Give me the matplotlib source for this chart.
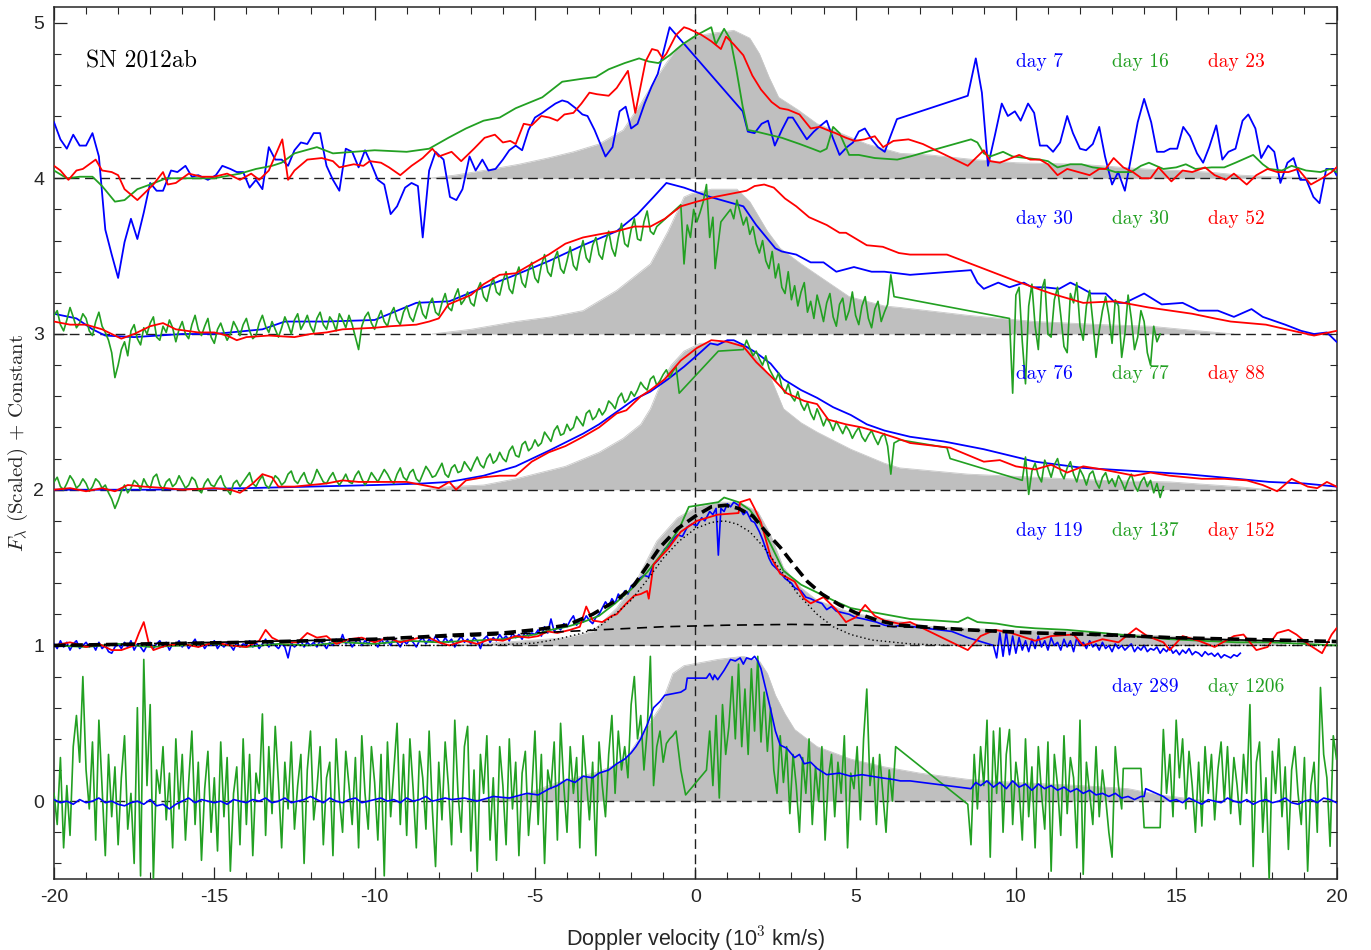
import numpy as np
import matplotlib
matplotlib.use("Agg")
import matplotlib.pyplot as plt
from matplotlib.ticker import MultipleLocator

# ---------------- data (velocity in 10^3 km/s, scaled flux + offset) ----------------
# ---- panel offset 4 : day 7 (blue), day 16 (green), day 23 (red)
day7 = [(-20,4.36),(-19.8,4.25),(-19.6,4.19),(-19.4,4.28),(-19.2,4.21),(-19.0,4.21),(-18.8,4.29),(-18.6,4.14),
        (-18.4,3.67),(-18.2,3.51),(-18.0,3.36),(-17.8,3.59),(-17.6,3.74),(-17.4,3.61),(-17.2,3.78),(-17.0,3.97),
        (-16.8,3.92),(-16.6,3.92),(-16.35,4.05),(-16.15,4.04),(-15.9,4.08),(-15.7,4.01),(-15.5,4.02),(-15.2,3.99),
        (-14.95,4.02),(-14.75,4.08),(-14.5,4.06),(-14.3,4.04),(-14.1,4.04),(-13.9,3.94),(-13.7,3.99),(-13.5,3.93),
        (-13.3,4.20),(-13.1,4.12),(-12.9,4.12),(-12.7,4.08),(-12.5,4.18),(-12.3,4.23),(-12.1,4.22),(-11.9,4.29),
        (-11.7,4.29),(-11.5,4.08),(-11.3,3.99),(-11.1,3.92),(-10.9,4.19),(-10.7,4.17),(-10.5,4.07),(-10.3,4.18),
        (-10.1,4.09),(-9.9,3.99),(-9.7,3.96),(-9.5,3.77),(-9.3,3.82),(-9.05,3.94),(-8.85,3.97),(-8.65,3.95),
        (-8.5,3.62),(-8.3,4.05),(-8.1,4.17),(-7.85,4.12),(-7.65,3.88),(-7.45,3.86),(-7.26,3.93),(-7.04,4.14),
        (-6.85,4.05),(-6.64,4.12),(-6.45,4.05),(-6.23,4.06),(-6.0,4.12),(-5.8,4.18),(-5.6,4.21),(-5.4,4.18),
        (-5.2,4.31),(-5.0,4.39),(-4.77,4.42),(-4.57,4.45),(-4.36,4.48),(-4.15,4.50),(-3.98,4.49),(-3.73,4.45),
        (-3.52,4.41),(-3.36,4.40),(-3.14,4.31),(-2.8,4.14),(-2.58,4.20),(-2.36,4.43),(-2.17,4.46),(-2.0,4.32),
        (-1.8,4.35),(-1.58,4.48),(-1.36,4.59),(-1.17,4.67),(-1.02,4.79),(-0.8,4.97),(1.48,4.43),(1.64,4.30),
        (1.85,4.29),(2.07,4.35),(2.27,4.37),(2.48,4.21),(2.7,4.31),(2.9,4.39),(3.04,4.39),(3.26,4.32),
        (3.48,4.25),(3.7,4.30),(3.92,4.34),(4.1,4.37),(4.29,4.26),(4.5,4.15),(4.73,4.20),(4.92,4.23),
        (5.1,4.30),(5.29,4.32),(5.5,4.25),(5.7,4.20),(5.91,4.17),(6.07,4.26),(6.29,4.38),(8.5,4.53),
        (8.75,4.77),(8.94,4.55),(9.13,4.08),(9.35,4.28),(9.56,4.48),(9.75,4.40),(9.97,4.43),(10.15,4.37),
        (10.38,4.48),(10.57,4.42),(10.75,4.21),(10.97,4.21),(11.16,4.17),(11.38,4.23),(11.6,4.40),(11.78,4.29),
        (12.0,4.19),(12.19,4.18),(12.4,4.22),(12.6,4.33),(12.78,4.14),(13.0,3.96),(13.19,4.04),(13.4,3.92),
        (13.62,4.16),(13.8,4.36),(14.0,4.51),(14.22,4.36),(14.4,4.17),(14.62,4.17),(14.81,4.19),(15.03,4.19),
        (15.22,4.33),(15.43,4.27),(15.65,4.16),(15.84,4.10),(16.03,4.20),(16.25,4.34),(16.44,4.12),(16.63,4.17),
        (16.85,4.19),(17.07,4.37),(17.25,4.41),(17.47,4.32),(17.65,4.13),(17.87,4.21),(18.06,4.17),(18.25,3.97),
        (18.47,4.10),(18.66,4.13),(18.87,3.99),(19.06,3.99),(19.28,3.88),(19.47,3.84),(19.68,4.06),(19.9,4.06),
        (20.0,4.02)]
day16 = [(-20,4.05),(-19.6,4.0),(-19.2,4.01),(-18.8,4.01),(-18.5,3.95),(-18.1,3.85),(-17.8,3.86),(-17.4,3.93),
         (-17.0,3.96),(-16.5,4.0),(-16.0,4.0),(-15.0,4.0),(-14.2,4.03),(-13.7,4.06),(-13.2,4.08),(-12.9,4.1),
         (-12.5,4.16),(-11.8,4.2),(-11.3,4.16),(-10.0,4.18),(-9.0,4.17),(-8.3,4.19),(-7.7,4.26),(-7.15,4.32),
         (-6.6,4.37),(-6.1,4.39),(-5.6,4.45),(-4.77,4.52),(-4.15,4.62),(-3.5,4.64),(-3.1,4.65),(-2.7,4.70),
         (-2.2,4.74),(-1.75,4.77),(-1.45,4.75),(-1.15,4.74),(-0.8,4.79),(-0.4,4.86),(0.05,4.92),(0.5,4.97),
         (0.64,4.86),(0.9,4.96),(1.1,4.89),(1.28,4.70),(1.48,4.46),(1.64,4.31),(1.9,4.30),(2.3,4.28),
         (2.7,4.26),(3.26,4.22),(3.65,4.19),(3.9,4.17),(4.1,4.19),(4.3,4.33),(4.5,4.29),(4.8,4.15),
         (5.1,4.15),(5.6,4.13),(6.3,4.12),(6.7,4.14),(8.6,4.25),(8.8,4.23),(9.0,4.16),(9.2,4.14),
         (9.6,4.17),(9.9,4.14),(10.75,4.12),(11.0,4.11),(11.3,4.07),(11.7,4.09),(12.05,4.09),(12.4,4.07),
         (12.8,4.06),(13.1,4.04),(13.6,4.04),(13.9,4.08),(14.15,4.10),(14.6,4.06),(15.0,4.07),(15.3,4.09),
         (15.6,4.06),(16.1,4.07),(16.5,4.07),(16.85,4.10),(17.4,4.15),(17.7,4.09),(17.9,4.06),(18.3,4.05),
         (18.6,4.08),(19.05,4.05),(19.5,4.04),(19.8,4.06),(20,4.04)]
day23 = [(-20,4.08),(-19.8,4.05),(-19.55,3.99),(-19.3,4.05),(-19.1,4.06),(-18.7,4.12),(-18.5,4.05),(-18.2,4.04),
         (-18.0,4.02),(-17.8,3.93),(-17.4,3.86),(-17.2,3.9),(-16.9,3.96),(-16.6,4.04),(-16.45,3.96),(-16.2,3.97),
         (-15.8,4.03),(-15.4,4.01),(-15.0,4.01),(-14.6,4.03),(-14.2,3.99),(-13.85,4.03),(-13.6,3.99),(-13.3,4.05),
         (-12.88,4.25),(-12.7,3.99),(-12.5,4.05),(-12.1,4.12),(-11.65,4.13),(-11.3,4.11),(-11.1,4.07),(-10.65,4.09),
         (-10.35,4.08),(-10.15,4.11),(-9.8,4.10),(-9.55,4.07),(-9.2,4.02),(-8.85,4.08),(-8.5,4.13),(-8.2,4.19),
         (-8.0,4.14),(-7.6,4.17),(-7.3,4.11),(-6.9,4.19),(-6.57,4.26),(-6.25,4.28),(-6.0,4.23),(-5.77,4.24),
         (-5.6,4.22),(-5.35,4.35),(-5.1,4.34),(-4.8,4.40),(-4.55,4.39),(-4.3,4.37),(-4.08,4.41),(-3.8,4.42),
         (-3.55,4.48),(-3.3,4.55),(-3.07,4.54),(-2.7,4.53),(-2.45,4.58),(-2.1,4.69),(-1.87,4.42),(-1.55,4.75),
         (-1.35,4.83),(-1.17,4.82),(-1.02,4.77),(-0.9,4.80),(-0.6,4.92),(-0.35,4.97),(-0.2,4.96),(0.2,4.92),
         (0.5,4.88),(0.8,4.83),(0.96,4.91),(1.2,4.86),(1.5,4.79),(1.78,4.66),(2.05,4.57),(2.38,4.49),
         (2.64,4.45),(2.9,4.44),(3.25,4.41),(3.6,4.32),(3.88,4.33),(4.12,4.31),(4.37,4.29),(4.7,4.26),
         (4.97,4.24),(5.28,4.25),(5.6,4.27),(5.86,4.20),(6.18,4.24),(6.65,4.25),(7.1,4.22),(8.5,4.08),
         (9.0,4.18),(9.2,4.11),(9.5,4.10),(10.1,4.15),(10.45,4.12),(10.75,4.12),(11.0,4.09),(11.3,4.02),
         (11.6,4.06),(11.95,4.04),(12.3,4.02),(12.6,4.06),(12.8,4.06),(13.05,4.13),(13.35,4.07),(13.65,4.04),
         (13.92,4.0),(14.2,4.0),(14.45,4.07),(14.85,3.98),(15.2,4.05),(15.5,4.04),(15.9,4.07),(16.2,4.02),
         (16.55,3.99),(16.8,4.03),(17.2,3.96),(17.5,4.02),(17.85,4.06),(18.15,4.04),(18.5,4.04),(18.8,4.06),
         (19.2,3.96),(19.55,4.0),(19.85,4.04),(20.0,4.07)]
gray4 = [(-8.3,4.0),(-7.5,4.02),(-6.6,4.05),(-5.5,4.09),(-4.6,4.13),(-3.8,4.17),(-3.0,4.22),(-2.25,4.31),
         (-1.7,4.48),(-1.2,4.65),(-0.6,4.83),(-0.07,4.91),(0.47,4.93),(1.2,4.95),(1.7,4.9),(2.0,4.8),
         (2.3,4.65),(2.6,4.52),(3.2,4.44),(3.8,4.35),(4.3,4.31),(5.35,4.22),(6.4,4.16),(7.3,4.15),
         (8.7,4.12),(10,4.10),(12,4.09),(14,4.06),(16,4.04),(17,4.02),(18,4.01),(20,4.0)]

# ---- panel offset 3 : day 30 (blue), day 30 (green), day 52 (red)
day30b = [(-20,3.13),(-19.3,3.1),(-18.8,3.03),(-18.4,2.99),(-17.5,2.98),(-16,3.0),(-15,3.0),(-13.5,3.03),
          (-12.8,3.08),(-11.5,3.08),(-10,3.09),(-8.7,3.2),(-7.67,3.21),(-6.6,3.30),(-5.6,3.38),(-4.55,3.47),
          (-3.5,3.57),(-2.45,3.66),(-1.8,3.77),(-1.3,3.88),(-0.9,3.97),(-0.35,3.94),(0.47,3.88),(1.5,3.82),
          (1.9,3.70),(2.5,3.55),(2.7,3.53),(3.15,3.51),(3.6,3.46),(4.0,3.46),(4.4,3.40),(4.95,3.43),
          (5.5,3.40),(5.9,3.40),(6.7,3.38),(8.6,3.41),(8.8,3.33),(9.0,3.29),(9.45,3.33),(9.8,3.30),
          (10.25,3.33),(10.5,3.30),(10.9,3.30),(11.35,3.29),(11.7,3.33),(12.0,3.30),(12.35,3.26),(12.8,3.26),
          (13.1,3.20),(13.4,3.20),(14.0,3.26),(14.55,3.19),(15.2,3.20),(15.7,3.15),(16.3,3.15),(16.8,3.11),
          (17.35,3.16),(17.7,3.11),(18.4,3.06),(18.9,3.02),(19.3,3.0),(19.7,3.01),(20.0,2.95)]
day30g_a = [3.12,3.15,3.06,3.02,3.09,3.17,3.11,3.04,3.07,3.13,
            3.10,3.02,2.99,3.08,3.14,3.05,3.01,2.96,2.88,2.72,
            2.80,2.90,2.95,2.86,3.02,3.06,2.97,2.93,3.04,3.00,
            3.07,3.11,2.98,2.96,3.05,3.01,3.09,3.04,2.95,3.03,
            3.08,3.00,2.97,3.06,3.12,3.03,2.99,3.05,3.10,2.98,
            2.94,3.03,3.07,3.01,2.96,3.00,3.08,3.04,2.99,3.06,
            3.10,3.02,2.97,2.99,3.07,3.12,3.05,3.01,3.08,3.03,
            2.98,3.04,3.11,3.06,3.00,3.09,3.13,3.03,3.07,3.12,
            3.05,3.01,3.10,3.14,3.06,3.03,3.11,3.08,3.02,3.13,
            3.09,3.04,3.12,3.06,2.98,2.90,3.05,3.11,3.14,3.07,
            3.03,3.10,3.15,3.08,3.05,3.13,3.17,3.09,3.06,3.14,
            3.18,3.11,3.08,3.15,3.21,3.13,3.10,3.19,3.23,3.14,
            3.12,3.20,3.26,3.17,3.15,3.24,3.29,3.19,3.22,3.27,
            3.20,3.18,3.28,3.33,3.24,3.21,3.30,3.36,3.27,3.25,
            3.34,3.40,3.29,3.26,3.37,3.43,3.33,3.30,3.41,3.46,
            3.36,3.33,3.44,3.51,3.40,3.37,3.48,3.53,3.42,3.39,
            3.47,3.56,3.44,3.41,3.52,3.60,3.49,3.46,3.57,3.62,
            3.51,3.48,3.59,3.66,3.55,3.50,3.62,3.71,3.58,3.56,
            3.67,3.74,3.61,3.60,3.72,3.79,3.66,3.64,3.69]
day30g_b = [(-0.45,3.83),(-0.35,3.45),(-0.25,3.70),(-0.15,3.62),(-0.05,3.80),(0.05,3.72),(0.15,3.78),
            (0.25,3.85),(0.35,3.96),(0.45,3.62),(0.55,3.75),(0.62,3.42),(0.8,3.72)]
day30g_c = [3.80,3.74,3.86,3.78,3.70,3.75,3.64,3.69,3.58,3.52,
            3.60,3.47,3.42,3.53,3.36,3.45,3.30,3.26,3.40,3.22,
            3.31,3.18,3.27,3.33,3.14,3.21,3.10,3.25,3.17,3.08,
            3.20,3.26,3.11,3.05,3.19,3.23,3.09,3.15,3.27,3.12,
            3.06,3.18,3.24,3.10,3.04,3.16,3.21,3.08,3.14,3.19,
            3.38,3.24]
day30g_d = [3.10,2.62,3.25,3.30,2.95,2.68,3.18,3.32,3.05,2.90,
            3.28,3.35,3.00,2.98,3.22,3.30,3.12,2.92,2.88,3.26,
            3.20,3.33,3.05,2.96,3.18,3.28,3.08,2.85,3.02,3.15,
            3.24,3.12,2.94,3.22,3.18,2.85,3.00,3.25,3.10,2.90,
            2.98,3.15,3.08,2.88,2.80,3.05,2.95,3.00]
day52 = [(-20,3.08),(-19.5,3.06),(-19.0,3.06),(-18.5,3.03),(-17.9,2.97),(-17.5,3.0),(-17.0,3.05),(-16.6,3.07),
         (-16.2,3.03),(-15.5,3.01),(-15.0,3.01),(-14.6,2.99),(-14.3,2.96),(-14.0,2.98),(-13.3,2.99),(-12.5,2.98),
         (-12.0,3.0),(-11.5,3.01),(-11.0,3.03),(-10.0,3.04),(-9.5,3.05),(-8.7,3.06),(-8.3,3.08),(-8.0,3.1),
         (-7.7,3.19),(-7.35,3.22),(-7.0,3.25),(-6.6,3.32),(-6.1,3.38),(-5.6,3.39),(-5.1,3.45),(-4.57,3.51),
         (-4.05,3.58),(-3.5,3.62),(-3.0,3.64),(-2.45,3.66),(-1.9,3.69),(-1.4,3.69),(-0.95,3.74),(-0.45,3.82),
         (0.05,3.85),(0.6,3.88),(1.1,3.9),(1.6,3.92),(1.85,3.95),(2.15,3.96),(2.45,3.94),(2.8,3.87),
         (3.15,3.82),(3.55,3.75),(4.1,3.70),(4.5,3.65),(4.7,3.65),(5.35,3.57),(5.85,3.56),(6.35,3.52),
         (6.7,3.51),(7.85,3.51),(10.0,3.34),(11.1,3.26),(12.1,3.20),(13.1,3.21),(14.15,3.17),(15.5,3.13),
         (16.2,3.1),(16.7,3.08),(17.8,3.06),(18.65,3.02),(19.3,2.99),(20,3.02)]
gray3 = [(-8.2,3.0),(-7,3.03),(-5.6,3.08),(-4.5,3.11),(-3.5,3.15),(-2.45,3.28),(-1.4,3.45),(-0.85,3.66),
         (-0.35,3.88),(-0.13,3.90),(0.5,3.93),(1.3,3.93),(1.7,3.85),(2.25,3.66),(2.65,3.55),(3.3,3.45),
         (3.8,3.38),(4.8,3.24),(5.9,3.18),(6.4,3.17),(8.5,3.12),(10.6,3.08),(12.7,3.06),(14.2,3.05),
         (15.7,3.02),(16.8,3.0)]

# ---- panel offset 2 : day 76 (blue), day 77 (green), day 88 (red)
day76 = [(-20,2.0),(-17,2.0),(-14,2.01),(-10,2.03),(-8.5,2.04),(-7.67,2.05),(-6.6,2.09),(-5.6,2.15),
         (-4.57,2.25),(-3.5,2.36),(-3.0,2.42),(-2.45,2.5),(-1.9,2.58),(-1.4,2.63),(-0.85,2.71),(-0.35,2.79),
         (0.15,2.88),(0.47,2.94),(0.7,2.93),(1.0,2.96),(1.2,2.96),(1.5,2.93),(1.9,2.88),(2.35,2.81),
         (2.75,2.71),(3.3,2.64),(3.8,2.59),(4.3,2.53),(4.85,2.48),(5.35,2.42),(5.9,2.38),(6.7,2.34),
         (7.75,2.31),(9.0,2.26),(10.6,2.18),(12.1,2.14),(13.7,2.12),(15.3,2.10),(16.9,2.07),(17.9,2.05),
         (19.0,2.04),(20,2.02)]
day77_a = [2.05,2.08,2.02,2.00,2.04,2.09,2.06,2.01,2.03,2.07,
           2.04,1.99,2.02,2.07,2.05,2.01,2.03,1.98,1.94,1.88,
           1.93,1.99,2.03,1.98,2.01,2.06,2.04,2.00,2.07,2.03,
           2.01,2.08,2.10,2.03,2.00,2.05,2.07,2.02,2.04,2.09,
           2.05,2.01,2.03,2.08,2.06,2.00,1.98,2.04,2.07,2.03,
           2.02,2.06,2.09,2.03,2.00,1.97,2.04,2.06,2.02,2.05,
           2.08,2.11,2.04,2.02,2.06,2.09,2.03,2.01,2.05,2.09,
           2.07,2.03,2.05,2.10,2.12,2.06,2.04,2.08,2.11,2.05,
           2.03,2.07,2.13,2.09,2.05,2.04,2.08,2.11,2.06,2.03,
           2.06,2.10,2.05,2.04,2.09,2.12,2.07,2.03,2.06,2.11,
           2.08,2.05,2.09,2.13,2.10,2.06,2.04,2.10,2.14,2.08,
           2.06,2.11,2.13,2.07,2.05,2.10,2.15,2.12,2.08,2.09,
           2.13,2.17,2.10,2.08,2.14,2.16,2.11,2.12,2.18,2.15,
           2.12,2.17,2.21,2.16,2.14,2.20,2.23,2.17,2.19,2.24,
           2.20,2.18,2.25,2.28,2.22,2.21,2.29,2.31,2.25,2.27,
           2.32,2.28,2.30,2.37,2.34,2.31,2.38,2.41,2.35,2.36,
           2.42,2.38,2.40,2.47,2.44,2.41,2.49,2.51,2.45,2.47,
           2.52,2.48,2.51,2.57,2.55,2.52,2.59,2.62,2.56,2.58,
           2.63,2.60,2.64,2.69,2.66,2.64,2.71,2.73,2.67,2.70,
           2.74,2.77,2.72,2.76,2.79,2.62]
day77_b = [2.90,2.96,2.91,2.86,2.89,2.84,2.80,2.86,2.78,2.74,
           2.70,2.75,2.66,2.62,2.68,2.60,2.57,2.63,2.55,2.51,
           2.56,2.49,2.45,2.52,2.47,2.41,2.46,2.43,2.38,2.44,
           2.40,2.36,2.41,2.38,2.33,2.37,2.40,2.34,2.31,2.35,
           2.38,2.33,2.29,2.34,2.36,2.28,2.10,2.30]
day77_c = [2.06,2.21,1.97,2.12,2.17,2.09,2.05,2.19,2.14,2.08,
           2.16,2.20,2.11,2.07,2.14,2.18,2.10,2.05,2.13,2.09,
           2.03,2.10,2.12,2.05,2.01,2.08,2.11,2.04,2.07,2.02,
           2.09,2.05,2.00,2.06,2.10,2.03,1.99,2.05,2.08,2.02,
           2.06,1.98,2.04,1.95,2.02]
day88 = [(-20,2.0),(-19.5,2.01),(-19.0,1.99),(-18.5,2.01),(-18.1,1.99),(-17.7,2.03),(-17.2,2.02),(-16.5,2.01),
         (-16,2.0),(-15,2.01),(-14.5,2.0),(-14.2,1.98),(-13.8,2.04),(-13.5,2.1),(-13.2,2.08),(-13.0,2.02),
         (-12.5,2.02),(-12.0,2.03),(-11.5,2.04),(-11.0,2.06),(-10.5,2.05),(-10.0,2.05),(-9.0,2.05),(-8.5,2.03),
         (-8.0,2.01),(-7.67,2.05),(-7.46,2.0),(-7.15,2.06),(-6.6,2.08),(-6.1,2.09),(-5.6,2.09),(-5.1,2.18),
         (-4.57,2.24),(-4.05,2.28),(-3.5,2.34),(-3.0,2.40),(-2.45,2.49),(-2.15,2.51),(-1.7,2.60),(-1.4,2.64),
         (-0.95,2.71),(-0.45,2.83),(0.05,2.91),(0.5,2.96),(1.0,2.95),(1.5,2.92),(1.9,2.82),(2.35,2.73),
         (2.85,2.62),(3.4,2.57),(3.8,2.55),(4.15,2.45),(4.7,2.42),(5.2,2.40),(5.7,2.37),(6.3,2.33),
         (6.7,2.30),(7.95,2.27),(9.0,2.18),(9.5,2.19),(10.0,2.15),(10.6,2.13),(11.1,2.16),(11.6,2.11),
         (12.1,2.15),(12.7,2.13),(13.2,2.11),(13.7,2.09),(14.2,2.11),(14.8,2.09),(15.8,2.07),(16.5,2.07),
         (17.2,2.06),(17.7,2.03),(18.15,1.99),(18.6,2.07),(19.1,2.02),(19.4,2.01),(19.7,2.05),(20,2.02)]
gray2 = [(-8.5,2.0),(-7.67,2.02),(-6.6,2.03),(-5.6,2.07),(-4.05,2.15),(-3.0,2.24),(-2.25,2.33),(-1.7,2.42),
         (-1.4,2.52),(-1.1,2.67),(-0.75,2.8),(-0.35,2.89),(0.15,2.94),(1.2,2.95),(1.7,2.91),(2.35,2.72),
         (2.75,2.52),(3.3,2.43),(3.8,2.37),(4.85,2.26),(5.9,2.17),(6.38,2.14),(8.5,2.10),(10.6,2.08),
         (12.7,2.06),(14.8,2.05),(16.9,2.02),(17.9,2.0)]

# ---- panel offset 1 : day 119 (blue), day 137 (green), day 152 (red) + line-profile fit
day119_a = [1.01,0.98,1.03,0.99,1.02,0.97,1.01,1.03,0.98,1.00,
            1.02,0.99,1.01,0.97,1.02,0.98,1.00,0.96,0.95,0.99,
            1.01,0.98,1.02,0.99,1.03,0.97,1.01,0.99,0.96,1.00,
            1.02,0.98,1.01,1.03,0.99,1.02,0.97,1.01,1.00,1.03,
            0.99,1.02,0.98,1.01,1.04,0.99,1.02,0.98,1.01,1.00,
            1.03,0.98,1.01,0.99,1.02,1.00,0.97,1.02,0.99,1.01,
            1.00,1.03,0.99,1.02,0.98,1.01,1.04,0.99,1.02,1.00,
            0.98,1.01,0.99,0.92,1.02,0.99,1.01,1.03,0.99,1.02,
            1.00,1.02,0.99,1.03,1.01,0.98,1.02,1.00,1.04,1.01,
            1.07,1.01,1.03,0.99,1.02,1.05,1.00,1.03,1.01,1.04,
            1.02,0.99,1.04,1.01,1.03,1.00,1.05,1.02,0.99,1.03,
            1.01,1.04,1.02,0.99,1.03,1.05,1.01,1.04,1.02,1.06,
            1.03,1.01,1.05,1.02,1.04,0.99,1.03,1.06,1.02,1.04,
            1.01,1.05,1.03,0.98,1.04,1.06,1.02,1.05,1.03,1.07,
            1.04,1.06,1.03,1.08,1.05,1.07,1.04,1.09,1.06,1.08,
            1.07,1.10,1.06,1.12,1.08,1.17,1.09,1.12,1.10,1.14,
            1.12,1.16,1.19,1.13,1.17,1.15,1.19,1.16,1.14,1.18,
            1.20,1.24,1.28,1.25,1.30,1.27,1.33,1.30,1.35,1.33,
            1.38]
day119_b = [(-1.8,1.42),(-1.6,1.45),(-1.45,1.44),(-1.3,1.52),(-1.15,1.55),(-0.95,1.62),(-0.8,1.64),(-0.65,1.69),
            (-0.55,1.71),(-0.4,1.70),(-0.25,1.76),(-0.1,1.78),(0.05,1.77),(0.2,1.82),(0.3,1.80),(0.45,1.86),
            (0.55,1.84),(0.65,1.88),(0.72,1.58),(0.8,1.88),(0.9,1.86),(1.0,1.91),(1.1,1.89),(1.2,1.92),
            (1.35,1.90),(1.5,1.84),(1.6,1.86),(1.75,1.80),(1.85,1.79),(2.0,1.73),(2.1,1.68),(2.2,1.62),
            (2.3,1.56),(2.4,1.52),(2.5,1.50),(2.65,1.47),(2.8,1.43),(3.0,1.40),(3.1,1.37),(3.3,1.35),
            (3.45,1.31),(3.6,1.30),(3.8,1.28),(3.95,1.27),(4.1,1.23),(4.25,1.25),(4.4,1.22),(4.6,1.21),
            (4.8,1.20),(5.0,1.18),(5.25,1.17),(5.45,1.16),(5.65,1.15),(5.9,1.13),(6.2,1.12),(6.4,1.13),
            (8.0,1.09),(8.5,1.05)]
day119_c = [1.00,0.92,1.08,0.93,1.09,0.94,1.06,0.95,1.05,0.97,
            1.03,0.96,1.04,0.98,1.06,0.99,1.03,0.97,1.05,1.00,
            1.02,0.97,1.04,0.99,1.03,0.96,1.05,1.00,1.02,0.98,
            1.03,0.99,1.01,0.97,1.02,0.98,1.00,0.96,1.01,0.98,
            1.00,0.97,0.99,1.01,0.96,0.99,0.97,1.00,0.96,0.98,
            0.97,0.99,0.95,0.98,0.96,0.99,0.95,0.97,0.94,0.97,
            0.95,0.98,0.94,0.96,0.95,0.93,0.96,0.94,0.95,0.93,
            0.95,0.92,0.94,0.93,0.92,0.94,0.93,0.95]
day137 = [(-20,1.0),(-19,0.99),(-18,1.01),(-17,0.99),(-16,1.0),(-15,1.01),(-14,0.99),(-13,1.01),
          (-12,1.0),(-11,1.02),(-10,1.01),(-9,1.03),(-8,1.02),(-7,1.03),(-6,1.04),(-5,1.07),
          (-4.5,1.10),(-4,1.12),(-3.5,1.15),(-3,1.19),(-2.5,1.27),(-2,1.36),(-1.5,1.47),(-1,1.60),
          (-0.5,1.75),(-0.2,1.89),(0.72,1.92),(0.9,1.95),(1.35,1.92),(1.7,1.87),(2.0,1.79),(2.35,1.65),
          (2.75,1.48),(3.3,1.39),(3.8,1.34),(4.4,1.28),(4.85,1.24),(5.35,1.22),(5.9,1.20),(6.7,1.17),
          (7.5,1.16),(8.2,1.15),(8.5,1.18),(8.8,1.15),(9.4,1.14),(10.0,1.12),(10.6,1.11),(11.6,1.10),
          (12.7,1.08),(13.7,1.06),(14.8,1.04),(15.8,1.03),(16.9,1.02),(17.9,1.02),(19,1.01),(20,1.0)]
day152 = [(-20,1.0),(-19.5,1.02),(-19.0,0.99),(-18.6,1.01),(-18.2,0.97),(-17.9,0.97),(-17.5,1.0),(-17.35,1.08),
          (-17.2,1.15),(-17.05,1.02),(-16.9,0.97),(-16.5,1.0),(-16.0,1.01),(-15.5,0.99),(-15.0,1.02),(-14.5,1.0),
          (-14.0,0.99),(-13.6,1.03),(-13.4,1.10),(-13.2,1.05),(-12.9,1.02),(-12.4,1.02),(-12.1,1.08),(-11.8,1.05),
          (-11.5,1.06),(-11.2,1.01),(-10.8,1.04),(-10.4,1.05),(-10.0,1.02),(-9.6,1.05),(-9.2,1.02),(-8.8,1.04),
          (-8.4,1.06),(-8.0,1.02),(-7.67,1.0),(-7.2,1.03),(-6.8,1.01),(-6.4,1.04),(-6.0,1.03),(-5.6,1.06),
          (-5.2,1.05),(-4.9,1.06),(-4.6,1.09),(-4.3,1.08),(-3.9,1.10),(-3.6,1.12),(-3.4,1.25),(-3.2,1.16),
          (-2.9,1.15),(-2.6,1.19),(-2.45,1.20),(-2.15,1.27),(-1.9,1.32),(-1.7,1.33),(-1.5,1.35),(-1.45,1.30),
          (-1.3,1.52),(-0.85,1.62),(-0.45,1.73),(0.05,1.80),(0.7,1.84),(1.35,1.85),(1.4,1.92),(1.7,1.94),
          (1.85,1.88),(2.05,1.79),(2.35,1.57),(2.65,1.46),(3.1,1.41),(3.4,1.30),(3.6,1.27),(4.0,1.31),
          (4.4,1.23),(4.7,1.15),(5.0,1.18),(5.3,1.26),(5.6,1.19),(5.9,1.16),(6.35,1.14),(6.7,1.15),
          (7.4,1.08),(8.5,0.97),(8.9,1.06),(9.35,1.10),(9.85,1.08),(10.6,1.03),(11.1,1.06),(11.8,1.07),
          (12.1,1.0),(12.7,1.04),(13.2,1.02),(13.75,1.11),(14.1,1.06),(14.6,1.02),(14.8,0.97),(15.2,1.06),
          (15.7,1.03),(16.2,0.99),(16.8,1.06),(17.1,1.07),(17.5,0.97),(17.85,0.99),(18.15,1.08),(18.5,1.10),
          (18.75,1.07),(19.1,1.01),(19.55,0.95),(19.85,1.07),(20,1.11)]
fit_total = [(-20,1.0),(-17,1.01),(-14,1.02),(-12,1.03),(-10,1.04),(-8.5,1.055),(-7.67,1.065),(-6.0,1.08),
             (-5.0,1.10),(-4.0,1.13),(-3.2,1.20),(-2.45,1.29),(-1.9,1.39),(-1.6,1.48),(-1.1,1.63),(-0.55,1.75),
             (0.0,1.83),(0.5,1.89),(0.95,1.90),(1.35,1.88),(1.8,1.83),(2.2,1.73),(2.65,1.63),(3.1,1.51),
             (3.5,1.41),(3.95,1.33),(4.5,1.26),(5.0,1.21),(5.7,1.16),(6.35,1.13),(8.5,1.10),(10.6,1.08),
             (12.7,1.07),(14.8,1.05),(16.9,1.04),(19.0,1.03),(20,1.025)]
fit_broad = [(-20,1.0),(-15,1.02),(-10,1.04),(-7,1.06),(-5,1.08),(-3,1.10),(-1,1.12),(1,1.13),
             (3,1.135),(5,1.13),(7,1.115),(10,1.085),(13,1.06),(16,1.04),(20,1.02)]
fit_narrow = [(-20,1.0),(-7,1.0),(-6,1.005),(-5,1.015),(-4.3,1.04),(-3.5,1.08),(-3,1.12),(-2.5,1.20),
              (-2,1.29),(-1.5,1.42),(-1,1.56),(-0.5,1.67),(0,1.75),(0.5,1.79),(0.9,1.80),(1.3,1.78),
              (1.7,1.73),(2.1,1.64),(2.5,1.53),(2.75,1.46),(3.2,1.33),(3.8,1.20),(4.3,1.12),(4.85,1.07),
              (5.5,1.035),(6.7,1.01),(8,1.0),(20,1.0)]
gray1 = [(-8,1.0),(-6,1.02),(-4,1.05),(-3.2,1.09),(-2.45,1.24),(-1.8,1.43),(-1.2,1.67),(-0.55,1.82),
         (0.05,1.89),(0.7,1.92),(1.35,1.92),(1.95,1.86),(2.35,1.71),(2.75,1.5),(3.3,1.37),(3.8,1.29),
         (4.85,1.21),(5.9,1.17),(7.4,1.12),(9.5,1.10),(11.6,1.09),(13.7,1.07),(15.8,1.05),(17.5,1.03),
         (18.5,1.0)]

# ---- panel offset 0 : day 289 (blue), day 1206 (green)
day289_a = [0.01,-0.01,0.00,-0.02,0.01,-0.01,0.00,0.02,-0.01,0.00,
            -0.02,-0.03,-0.01,0.00,-0.02,0.01,-0.03,-0.02,-0.05,-0.02,
            0.00,0.02,-0.01,0.01,0.00,-0.01,0.00,-0.02,0.01,0.00,
            -0.01,0.01,0.00,0.02,-0.01,0.00,0.02,-0.01,0.00,0.01,
            0.03,0.01,-0.01,0.02,0.00,-0.01,0.01,0.02,-0.01,0.00,
            0.01,0.02,0.00,0.01,-0.01,0.02,0.00,0.01,0.03,0.00,
            0.01,0.02,0.01]
day289_b = [(-7.2,0.02),(-6.8,0.0),(-6.3,0.03),(-5.8,0.02),(-5.25,0.05),(-4.9,0.04),(-4.55,0.08),(-4.3,0.10),
            (-4.0,0.14),(-3.75,0.12),(-3.5,0.16),(-3.2,0.15),(-3.0,0.18),(-2.7,0.20),(-2.45,0.24),(-2.2,0.27),
            (-2.0,0.31),(-1.85,0.35),(-1.7,0.40),(-1.5,0.49),(-1.3,0.60),(-1.1,0.64),(-0.95,0.68),(-0.7,0.69),
            (-0.45,0.70),(-0.3,0.72),(-0.25,0.79),(0.35,0.79),(0.45,0.82),(0.55,0.78),(0.6,0.81),(0.7,0.78),
            (0.9,0.84),(1.1,0.91),(1.25,0.90),(1.4,0.92),(1.5,0.88),(1.6,0.92),(1.75,0.91),(1.85,0.93),
            (1.95,0.90),(2.05,0.85),(2.2,0.72),(2.35,0.59),(2.5,0.45),(2.65,0.36),(2.85,0.34),(3.1,0.28),
            (3.25,0.30),(3.4,0.24),(3.6,0.25),(3.8,0.21),(4.1,0.17),(4.5,0.18),(4.85,0.16),(5.2,0.17),
            (5.5,0.16),(5.8,0.15),(6.15,0.14),(6.4,0.13),(6.7,0.13),(8.6,0.08),(8.75,0.12),(8.9,0.10),
            (9.1,0.13),(9.3,0.09),(9.5,0.12),(9.7,0.08),(9.9,0.13),(10.1,0.09),(10.3,0.11),(10.5,0.07),
            (10.7,0.11),(10.9,0.08),(11.1,0.10),(11.3,0.07),(11.5,0.09),(11.7,0.06),(11.9,0.08),(12.1,0.05),
            (12.3,0.07),(12.5,0.04),(12.7,0.05),(12.9,0.03),(13.1,0.05),(13.3,0.02),(13.5,0.03),(13.7,0.01),
            (13.9,0.03),(14.0,0.03),(14.05,0.08),(14.6,0.03)]
day289_c = [0.00,0.01,-0.01,0.02,0.00,-0.02,0.01,0.00,-0.01,0.02,
            0.00,-0.01,0.01,-0.02,0.00,0.01,-0.01,0.00,0.02,-0.01,
            -0.02,0.00,0.01,-0.01,0.02,0.01,-0.01]
day1206_a = [0.05,-0.15,0.28,-0.30,0.10,-0.22,0.35,0.55,0.25,0.80,
             0.20,-0.05,0.38,-0.25,0.52,0.08,-0.35,0.30,-0.10,0.22,
             -0.28,0.15,0.42,-0.18,0.05,-0.40,0.60,-0.48,0.91,0.10,
             0.62,-0.50,0.20,0.05,0.35,-0.12,0.18,-0.30,0.40,-0.05,
             0.30,-0.25,0.12,0.45,-0.15,0.25,-0.38,0.08,0.32,-0.20,
             0.15,-0.32,0.38,-0.10,0.28,-0.45,0.05,0.22,-0.28,0.40,
             -0.15,0.30,-0.35,0.18,0.05,0.56,-0.22,0.35,-0.08,0.48,
             0.12,-0.30,0.25,-0.05,0.38,-0.18,0.10,0.30,-0.40,0.20,
             0.45,-0.12,0.08,0.35,-0.28,0.15,0.25,-0.35,0.40,0.02,
             -0.20,0.32,0.10,-0.15,0.28,-0.30,0.42,0.05,-0.18,0.35,
             0.12,-0.25,0.30,-0.48,0.38,-0.10,0.20,0.50,-0.15,0.30,
             -0.22,0.40,0.08,-0.30,0.32,0.15,-0.18,0.45,-0.05,-0.42,
             0.25,-0.12,0.38,0.10,-0.28,0.52,0.05,-0.20,0.35,0.48,
             -0.32,0.20,-0.45,0.30,0.05,0.42,-0.25,0.15,-0.38,0.35,
             0.10,-0.28,0.40,-0.05,0.25,-0.35,0.18,0.32,-0.22,0.05,
             0.45,-0.15,0.30,-0.40,0.20,0.08,0.38,-0.25,0.50,0.10,
             -0.20,0.35,0.05,0.28,-0.30,0.42,0.15,-0.12,0.25,-0.35,
             0.38,0.10,-0.10,0.30,0.55,0.05,0.45,0.20,0.35,0.15,
             0.62,0.80,0.40,0.55,0.20,0.45,0.93,0.10,0.35,0.45,
             0.25,0.37,0.40,0.42,0.45]
day1206_b = [(-0.45,0.20),(-0.3,0.04)]
day1206_c = [0.20,0.45,0.10,0.55,0.02,0.62,0.30,0.48,0.80,0.40,
             0.88,0.35,0.72,0.30,0.85,0.45,0.93,0.38,0.70,0.32,
             0.60,0.20,0.05,0.42,0.12,0.35,-0.08,0.30,0.10,-0.20,
             0.28,0.05,0.40,-0.15,0.22,0.00,0.35,-0.25,0.15,0.30,
             -0.10,0.25,0.05,0.42,-0.30,0.18,0.08,0.35,-0.12,0.40,
             0.72,0.10,0.28,-0.15,0.30,0.05,-0.20,0.20,0.00]
day1206_d = [-0.02,-0.28,0.30,-0.05,0.35,0.10,0.52,-0.36,0.45,0.05,
             0.47,-0.20,0.30,0.46,-0.15,0.25,0.08,-0.25,0.40,-0.10,
             0.22,-0.30,0.35,0.05,-0.18,0.38,-0.45,0.30,0.10,-0.22,
             0.42,-0.08,0.28,0.15,-0.30,0.52,-0.47,0.25,0.05,-0.15,
             0.35,-0.10,0.20,0.02,-0.20,-0.36,0.35,0.10,-0.05]
day1206_box = [(13.35,0.21),(13.9,0.21),(14.0,-0.17),(14.5,-0.17)]
day1206_e = [0.46,0.05,0.30,-0.10,0.52,0.15,0.40,-0.05,0.32,0.10,
             -0.20,0.25,-0.16,0.35,0.05,0.30,-0.12,0.20,0.38,0.00,
             0.35,-0.08,0.28,0.10,-0.15,0.30,0.05,0.62,-0.42,0.25,
             0.38,-0.20,0.15,-0.50,0.32,0.05,0.40,-0.10,0.22,-0.31,
             0.20,0.35,0.05,-0.15,0.28,-0.45,0.10,0.25,-0.20,0.73,
             0.30,0.15,-0.29,0.42,0.27]
gray0 = [(-7.5,0.0),(-5.5,0.03),(-4.3,0.12),(-3.0,0.19),(-2.2,0.26),(-1.6,0.45),(-1.1,0.60),(-0.7,0.82),
         (-0.35,0.87),(0.7,0.91),(1.5,0.93),(2.0,0.90),(2.25,0.82),(2.5,0.68),(2.8,0.56),(3.1,0.46),
         (3.8,0.35),(4.85,0.27),(5.9,0.22),(7,0.18),(8.5,0.14),(10,0.12),(12,0.10),(13.5,0.08),
         (14.5,0.04),(16,0.0)]

offsets = [0, 1, 2, 3, 4]
labels = [("day 7", "day 16", "day 23"), ("day 30", "day 30", "day 52"),
          ("day 76", "day 77", "day 88"), ("day 119", "day 137", "day 152"),
          ("day 289", "day 1206")]
label_x = [10.0, 13.0, 16.0]
label_y = [4.748, 3.74, 2.74, 1.735, 0.733]
xticks = [-20, -15, -10, -5, 0, 5, 10, 15, 20]
yticks = [0, 1, 2, 3, 4, 5]

# ---------------- helpers ----------------
def xy(pairs):
    a = np.array(pairs, dtype=float)
    return a[:, 0], a[:, 1]

def grid(x0, x1, vals):
    return np.linspace(x0, x1, len(vals)), np.array(vals, dtype=float)

def join(*parts):
    xs = np.concatenate([p[0] for p in parts])
    ys = np.concatenate([p[1] for p in parts])
    return xs, ys

BLUE = "#0000ff"
GREEN = "#22a022"
RED = "#ff0000"
GRAY = "#bfbfbf"
TXT = "#262626"

plt.rcParams["mathtext.fontset"] = "cm"
plt.rcParams["axes.unicode_minus"] = False
plt.rcParams["font.family"] = ["Liberation Sans", "DejaVu Sans"]

fig = plt.figure(figsize=(13.71, 9.5), dpi=100)
ax = fig.add_axes([54 / 1371, 71 / 950, 1282.5 / 1371, 872 / 950])

# gray template profiles
for g in (gray0, gray1, gray2, gray3, gray4):
    gx, gy = xy(g)
    base = round(gy[-1])
    ax.fill_between(gx, base, gy, color=GRAY, lw=0, zorder=1)
    ax.plot(gx, gy, color="#c8c8c8", lw=0.6, zorder=1)

# baselines and zero velocity
for o in offsets:
    ax.axhline(o, color="#202020", lw=1.0, ls=(0, (7, 4)), zorder=2)
ax.axvline(0, color="#202020", lw=1.0, ls=(0, (7, 4)), zorder=2)

LW = 1.3
# panel 4
ax.plot(*xy(day7), color=BLUE, lw=LW, zorder=3)
ax.plot(*xy(day16), color=GREEN, lw=LW, zorder=4)
ax.plot(*xy(day23), color=RED, lw=LW, zorder=5)
# panel 3
ax.plot(*xy(day30b), color=BLUE, lw=LW, zorder=3)
g30 = join(grid(-20, -1.2, day30g_a), xy(day30g_b), grid(1.1, 6.2, day30g_c), grid(9.8, 14.5, day30g_d))
ax.plot(*g30, color=GREEN, lw=1.2, zorder=4)
ax.plot(*xy(day52), color=RED, lw=LW, zorder=5)
# panel 2
ax.plot(*xy(day76), color=BLUE, lw=LW, zorder=3)
g77 = join(grid(-20, -0.5, day77_a), xy([(0.72, 2.89)]), grid(1.5, 6.2, day77_b),
           xy([(6.38, 2.32), (7.85, 2.27), (7.95, 2.20)]), grid(10.2, 14.6, day77_c))
ax.plot(*g77, color=GREEN, lw=1.2, zorder=4)
ax.plot(*xy(day88), color=RED, lw=LW, zorder=5)
# panel 1
b119 = join(grid(-20, -2.0, day119_a), xy(day119_b), grid(9.3, 17.0, day119_c))
ax.plot(*b119, color=BLUE, lw=1.2, zorder=3)
ax.plot(*xy(day137), color=GREEN, lw=LW, zorder=4)
ax.plot(*xy(day152), color=RED, lw=LW, zorder=5)
ax.plot(*xy(fit_narrow), color="black", lw=1.0, ls=(0, (1, 2)), zorder=6)
ax.plot(*xy(fit_broad), color="black", lw=1.2, ls=(0, (6, 4)), zorder=6)
ax.plot(*xy(fit_total), color="black", lw=2.6, ls=(0, (3.2, 1.6)), zorder=6)
# panel 0
b289 = join(grid(-20, -7.6, day289_a), xy(day289_b), grid(14.8, 20, day289_c))
ax.plot(*b289, color=BLUE, lw=1.2, zorder=4)
g1206 = join(grid(-20, -0.6, day1206_a), xy(day1206_b), grid(0.35, 6.15, day1206_c),
             xy([(6.25, 0.35)]), grid(8.5, 13.3, day1206_d), xy(day1206_box), grid(14.6, 20.0, day1206_e))
ax.plot(*g1206, color=GREEN, lw=1.2, zorder=3)

# labels
for labs, yy in zip(labels, label_y):
    if len(labs) == 3:
        xs = label_x
        cols = [BLUE, GREEN, RED]
    else:
        xs = label_x[1:]
        cols = [BLUE, GREEN]
    for t, xx, c in zip(labs, xs, cols):
        ax.text(xx, yy, t, color=c, fontsize=14, fontfamily="cmr10", ha="left", va="center", zorder=7)
ax.text(-19.0, 4.748, "SN 2012ab", color="black", fontsize=17, fontfamily="cmr10",
        ha="left", va="center", zorder=7)

# axes styling
ax.set_xlim(-20, 20)
ax.set_ylim(-0.5, 5.1)
ax.set_xticks(xticks)
ax.set_yticks(yticks)
ax.set_xticklabels([str(v) for v in xticks])
ax.set_yticklabels([str(v) for v in yticks])
ax.xaxis.set_minor_locator(MultipleLocator(1))
ax.yaxis.set_minor_locator(MultipleLocator(0.2))
ax.tick_params(which="both", direction="in", top=True, right=True, colors=TXT, labelcolor=TXT)
ax.tick_params(which="major", length=9, width=0.9, labelsize=14, pad=7)
ax.tick_params(which="minor", length=5, width=0.8)
for s in ax.spines.values():
    s.set_color(TXT)
    s.set_linewidth(1.1)

ax.set_xlabel(r"Doppler velocity (10$^{\mathsf{3}}$ km/s)", fontsize=15.5, color=TXT, labelpad=13)
fig.text(18 / 1371, (950 - 443) / 950, r"$F_\lambda$ (Scaled) + Constant", rotation=90,
         fontsize=15, fontfamily="cmr10", ha="center", va="center", color=TXT)

fig.savefig("out.png", dpi=100)
